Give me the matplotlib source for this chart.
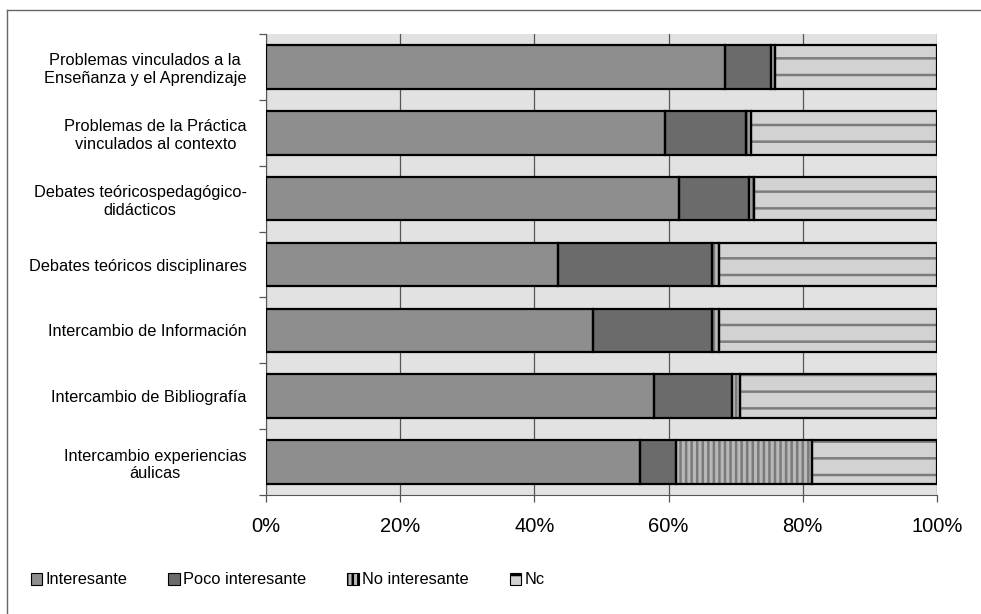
import matplotlib.pyplot as plt
import numpy as np
from matplotlib.patches import Patch
from matplotlib.lines import Line2D

plt.rcParams['font.family'] = ['Liberation Sans', 'DejaVu Sans']
plt.rcParams['hatch.linewidth'] = 1.8

categories = [
    'Problemas vinculados a la\nEnseñanza y el Aprendizaje',
    'Problemas de la Práctica\nvinculados al contexto',
    'Debates teóricospedagógico-\ndidácticos',
    'Debates teóricos disciplinares',
    'Intercambio de Información',
    'Intercambio de Bibliografía',
    'Intercambio experiencias\náulicas',
]
interesante = [68.4, 59.4, 61.6, 43.5, 48.8, 57.8, 55.7]
poco_interesante = [6.9, 12.1, 10.4, 22.9, 17.7, 11.6, 5.4]
no_interesante = [0.6, 0.8, 0.8, 1.1, 1.0, 1.3, 20.3]
nc = [24.1, 27.7, 27.2, 32.5, 32.5, 29.3, 18.6]

series = [
    ('Interesante', interesante, '#8e8e8e', '', '#8e8e8e'),
    ('Poco interesante', poco_interesante, '#6b6b6b', '', '#6b6b6b'),
    ('No interesante', no_interesante, '#b8b8b8', '|||', '#7a7a7a'),
    ('Nc', nc, '#d2d2d2', '-', '#7c7c7c'),
]

fig = plt.figure(figsize=(9.81, 6.14), dpi=100)
ax = fig.add_axes([266 / 981, 1 - 495 / 614, (937 - 266) / 981, (495 - 34) / 614])
ax.set_facecolor('#e2e2e2')

y = np.arange(len(categories))
left = np.zeros(len(categories))
for name, vals, fc, hatch, hc in series:
    vals = np.array(vals)
    ax.barh(y, vals, left=left, height=0.66, color=fc, hatch=hatch,
            edgecolor=hc, linewidth=0, zorder=3)
    ax.barh(y, vals, left=left, height=0.66, fill=False,
            edgecolor='black', linewidth=1.6, zorder=4)
    left += vals

ax.set_xlim(0, 100)
ax.set_ylim(len(categories) - 0.5, -0.5)
ax.set_xticks([0, 20, 40, 60, 80, 100])
ax.set_xticklabels(['0%', '20%', '40%', '60%', '80%', '100%'], fontsize=14.5)
ax.xaxis.grid(True, color='#555555', linewidth=0.9, zorder=1)
ax.set_axisbelow(True)

ax.set_yticks(y)
ax.set_yticklabels(categories, fontsize=11.8, multialignment='center')
ax.set_yticks(np.arange(-0.5, len(categories), 1), minor=True)
ax.tick_params(axis='y', which='major', length=0, pad=14)
ax.tick_params(axis='y', which='minor', length=5, width=0.9, color='#555555')
ax.tick_params(axis='x', length=5, width=0.9, color='#555555', pad=11)

for s in ['top', 'right']:
    ax.spines[s].set_visible(False)
ax.spines['left'].set_color('#555555')
ax.spines['bottom'].set_color('#555555')

handles = [Patch(facecolor=fc, hatch=hatch, edgecolor='black', linewidth=0.8)
           for name, vals, fc, hatch, hc in series]
labels = [s[0] for s in series]
fig.legend(handles, labels, loc='center left', bbox_to_anchor=(16 / 981, 1 - 580 / 614),
           ncol=4, frameon=False, fontsize=11.8, handlelength=0.7, handleheight=0.7,
           handletextpad=0.2, columnspacing=2.5)

# outer frame (left and top edges)
fig.add_artist(Line2D([7 / 981, 7 / 981], [0, 1 - 10 / 614], color='#666666', linewidth=1))
fig.add_artist(Line2D([7 / 981, 1], [1 - 10 / 614, 1 - 10 / 614], color='#666666', linewidth=1))

fig.savefig('out.png', dpi=100)
